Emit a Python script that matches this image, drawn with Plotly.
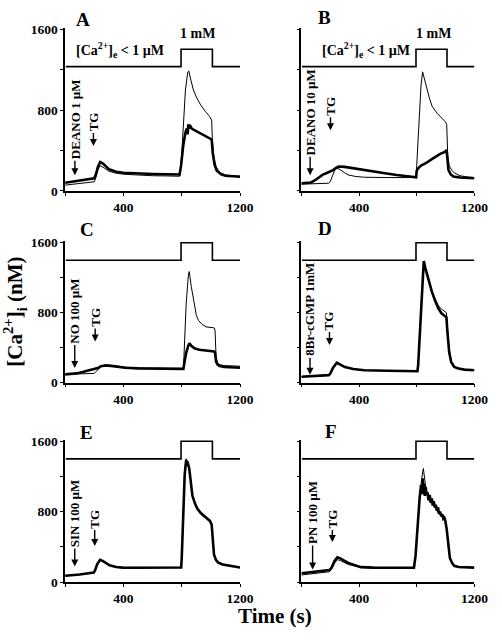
import plotly.graph_objects as go

# ---------------- data ----------------
panel_letters = ["A", "B", "C", "D", "E", "F"]
drug_labels = ["DEANO 1 µM", "DEANO 10 µM", "NO 100 µM", "8Br-cGMP 1mM", "SIN 100 µM", "PN 100 µM"]
drug_time = [67, 61, 66, 60, 66, 78]       # s, time of drug addition (arrow)
tg_time = [194, 202, 206, 195, 203, 215]   # s, time of thapsigargin (arrow)

x_tickvals = [400, 1200]
x_minor = [0, 800]
y_tickvals = [0, 800, 1600]
y_minor = [400, 1200]

# extracellular Ca2+ protocol (step)
step_t = [5, 795, 795, 1010, 1010, 1200]
step_AB = [1232, 1232, 1405, 1405, 1232, 1232]
step_CF = [1400, 1400, 1600, 1600, 1400, 1400]

# Panel A
A_ctrl_t = [0, 100, 200, 210, 225, 240, 260, 300, 350, 400, 500, 600, 700, 785, 795, 810, 825, 840, 848, 860, 880, 900, 930, 960, 990, 1005, 1010, 1020, 1035, 1060, 1100, 1150, 1200]
A_ctrl_v = [57, 70, 90, 130, 210, 250, 235, 195, 175, 165, 155, 150, 148, 145, 250, 650, 1000, 1170, 1190, 1110, 1000, 930, 850, 790, 740, 700, 500, 330, 240, 180, 158, 150, 145]
A_drug_t = [0, 100, 200, 210, 225, 240, 260, 300, 350, 400, 500, 600, 700, 785, 795, 810, 825, 835, 840, 845, 850, 860, 870, 890, 920, 950, 980, 1005, 1012, 1025, 1040, 1070, 1100, 1150, 1200]
A_drug_v = [80, 100, 125, 160, 240, 285, 270, 215, 190, 180, 172, 168, 165, 163, 250, 450, 580, 620, 560, 660, 620, 640, 615, 600, 575, 550, 530, 510, 380, 260, 200, 165, 150, 145, 140]

# Panel B
B_ctrl_t = [0, 100, 190, 200, 215, 230, 247, 270, 300, 325, 380, 437, 600, 796, 800, 815, 830, 841, 855, 874, 890, 908, 925, 942, 975, 998, 1008, 1015, 1025, 1045, 1065, 1100, 1150, 1200]
B_ctrl_v = [66, 70, 76, 90, 150, 200, 224, 210, 180, 158, 142, 135, 132, 132, 250, 700, 1050, 1180, 1100, 1000, 910, 835, 800, 769, 720, 686, 660, 350, 250, 200, 175, 150, 138, 132]
B_drug_t = [0, 40, 67, 100, 146, 180, 202, 220, 235, 258, 300, 370, 440, 504, 580, 661, 730, 796, 800, 810, 830, 863, 900, 930, 960, 998, 1007, 1013, 1020, 1035, 1054, 1100, 1150, 1200]
B_drug_v = [76, 78, 83, 110, 158, 180, 191, 205, 224, 241, 238, 224, 208, 191, 175, 158, 145, 135, 200, 224, 250, 274, 310, 340, 365, 389, 406, 320, 208, 165, 142, 133, 128, 125]

# Panel C
C_ctrl_t = [0, 100, 200, 215, 230, 244, 278, 330, 411, 500, 600, 700, 811, 815, 830, 845, 851, 865, 878, 890, 900, 915, 940, 967, 1000, 1022, 1028, 1035, 1045, 1060, 1090, 1150, 1200]
C_ctrl_v = [94, 98, 105, 130, 165, 187, 206, 195, 176, 168, 163, 160, 157, 300, 900, 1230, 1270, 1100, 956, 850, 769, 710, 665, 637, 630, 626, 600, 300, 230, 205, 195, 188, 187]
C_drug_t = [0, 50, 78, 120, 160, 200, 230, 244, 278, 330, 411, 500, 600, 700, 811, 818, 830, 844, 852, 865, 890, 920, 960, 1000, 1022, 1028, 1035, 1045, 1060, 1090, 1150, 1200]
C_drug_v = [94, 98, 105, 120, 135, 150, 170, 187, 195, 188, 170, 163, 160, 158, 157, 230, 340, 420, 450, 420, 390, 375, 365, 360, 356, 340, 240, 205, 190, 178, 172, 169]

# Panel D
D_ctrl_t = [0, 100, 190, 200, 220, 246, 270, 302, 360, 436, 600, 805, 810, 825, 840, 849, 860, 883, 905, 927, 950, 972, 990, 1006, 1012, 1025, 1039, 1060, 1090, 1130, 1200]
D_ctrl_v = [67, 75, 85, 100, 170, 227, 210, 178, 155, 141, 135, 130, 200, 700, 1200, 1370, 1300, 1170, 1030, 960, 880, 840, 820, 800, 650, 380, 250, 190, 165, 150, 141]
D_drug_t = [0, 100, 190, 200, 220, 246, 270, 302, 360, 436, 600, 805, 810, 825, 840, 849, 860, 883, 905, 927, 950, 972, 990, 1006, 1012, 1025, 1039, 1060, 1090, 1130, 1200]
D_drug_v = [67, 75, 85, 100, 170, 227, 210, 178, 155, 141, 135, 130, 200, 700, 1220, 1390, 1310, 1164, 1040, 940, 850, 792, 770, 747, 600, 350, 234, 180, 160, 148, 141]

# Panel E
E_ctrl_t = [0, 100, 196, 205, 220, 240, 260, 305, 350, 393, 500, 600, 700, 796, 800, 810, 820, 829, 840, 851, 862, 873, 890, 906, 930, 960, 980, 993, 1005, 1013, 1021, 1035, 1050, 1080, 1120, 1200]
E_ctrl_v = [70, 85, 107, 130, 200, 255, 240, 193, 175, 167, 165, 165, 166, 167, 300, 800, 1250, 1400, 1380, 1300, 1150, 989, 900, 841, 790, 748, 720, 700, 660, 500, 322, 260, 230, 205, 193, 167]
E_drug_t = [0, 100, 196, 205, 220, 240, 260, 305, 350, 393, 500, 600, 700, 796, 800, 810, 820, 829, 840, 851, 862, 873, 890, 906, 930, 960, 980, 993, 1005, 1013, 1021, 1035, 1050, 1080, 1120, 1200]
E_drug_v = [72, 86, 108, 132, 205, 252, 238, 190, 172, 165, 164, 164, 165, 166, 290, 780, 1220, 1370, 1360, 1290, 1140, 980, 895, 836, 785, 745, 716, 695, 650, 480, 310, 250, 222, 200, 190, 165]

# Panel F
F_ctrl_t = [0, 100, 195, 210, 230, 250, 270, 325, 412, 500, 600, 700, 781, 792, 805, 820, 835, 846, 857, 868, 890, 911, 930, 954, 975, 998, 1008, 1020, 1030, 1045, 1060, 1090, 1130, 1200]
F_ctrl_v = [81, 98, 118, 150, 215, 255, 245, 200, 168, 160, 157, 156, 155, 300, 650, 950, 1180, 1290, 1150, 1000, 930, 880, 830, 774, 735, 700, 600, 400, 274, 220, 190, 175, 168, 163]
F_drug_t = [0, 100, 195, 210, 230, 250, 270, 325, 412, 500, 600, 700, 781, 792, 805, 820, 830, 838, 842, 846, 850, 856, 862, 868, 875, 882, 890, 897, 905, 911, 918, 925, 932, 940, 948, 954, 962, 970, 978, 985, 992, 998, 1008, 1020, 1030, 1045, 1060, 1090, 1130, 1200]
F_drug_v = [100, 115, 137, 165, 240, 281, 270, 218, 170, 165, 163, 163, 163, 300, 650, 950, 1100, 1000, 1180, 1050, 1120, 980, 1080, 1000, 1020, 930, 990, 900, 950, 870, 920, 850, 880, 810, 850, 774, 800, 750, 770, 720, 730, 700, 600, 400, 274, 218, 185, 172, 168, 165]

ctrl_t = [A_ctrl_t, B_ctrl_t, C_ctrl_t, D_ctrl_t, E_ctrl_t, F_ctrl_t]
ctrl_v = [A_ctrl_v, B_ctrl_v, C_ctrl_v, D_ctrl_v, E_ctrl_v, F_ctrl_v]
drug_t = [A_drug_t, B_drug_t, C_drug_t, D_drug_t, E_drug_t, F_drug_t]
drug_v = [A_drug_v, B_drug_v, C_drug_v, D_drug_v, E_drug_v, F_drug_v]
steps = [step_AB, step_AB, step_CF, step_CF, step_CF, step_CF]

# ---------------- layout ----------------
W, H = 502, 640
FONT = "Liberation Serif, Times New Roman, serif"

col_px = [(67, 247), (310, 488)]
row_px = [(22.5, 189), (240.7, 385), (443.6, 589)]  # top, bottom in px

# arrow head level (nM) and offset (px) of label centre above the head
drug_arrow = [(155, 56), (155, 63), (168, 57), (90, 65), (178, 53), (144, 57)]
tg_arrow = [(446, 24), (601, 24), (470, 24), (430, 24), (411, 27), (455, 23)]
letter_px = [(85, 14), (334, 12), (89, 228), (334, 227), (89, 436), (340, 435)]
cae_label_t = [375, 445]
mm_label_t = [905, 917]

fig = go.Figure()
layout = dict(width=W, height=H, margin=dict(l=0, r=0, t=0, b=0), autosize=False,
              paper_bgcolor="white", plot_bgcolor="white", showlegend=False,
              font=dict(family=FONT, size=13, color="black"))
annotations = []
tickfont = dict(family=FONT, size=13.5, color="black", weight="bold")
lblfont = dict(family=FONT, size=13, color="black")
minor_style = dict(ticks="outside", ticklen=3, tickwidth=1.2, tickcolor="black", showgrid=False)

for i in range(6):
    r, c = divmod(i, 2)
    n = "" if i == 0 else str(i + 1)
    xa, ya = "x" + n, "y" + n
    x0, x1 = col_px[c]
    t0, b0 = row_px[r]
    layout["xaxis" + n] = dict(domain=[x0 / W, x1 / W], range=[0, 1200], anchor=ya,
                               showline=True, linecolor="black", linewidth=1.5,
                               showgrid=False, zeroline=False, ticks="outside", ticklen=3,
                               tickwidth=1.2, tickcolor="black",
                               tickmode="array", tickvals=x_tickvals, tickfont=tickfont,
                               minor=dict(tickmode="array", tickvals=x_minor, **minor_style))
    yax = dict(domain=[1 - b0 / H, 1 - t0 / H], range=[0, 1615], anchor=xa,
               showline=True, linecolor="black", linewidth=1.5,
               showgrid=False, zeroline=False, ticks="outside", ticklen=3,
               tickwidth=1.2, tickcolor="black", tickmode="array", tickfont=tickfont)
    if c == 0:
        yax.update(tickvals=y_tickvals,
                   minor=dict(tickmode="array", tickvals=y_minor, **minor_style))
    else:
        yax.update(tickvals=y_tickvals + y_minor, showticklabels=False)
    layout["yaxis" + n] = yax

    fig.add_trace(go.Scatter(x=step_t, y=steps[i], mode="lines", xaxis=xa, yaxis=ya,
                             line=dict(color="black", width=1.6)))
    fig.add_trace(go.Scatter(x=drug_t[i], y=drug_v[i], mode="lines", xaxis=xa, yaxis=ya,
                             line=dict(color="black", width=2.6)))
    fig.add_trace(go.Scatter(x=ctrl_t[i], y=ctrl_v[i], mode="lines", xaxis=xa, yaxis=ya,
                             line=dict(color="black", width=1.0)))

    dv, dpx = drug_arrow[i]
    annotations.append(dict(x=drug_time[i], y=dv, xref=xa, yref=ya,
                            text="<b>" + drug_labels[i] + "</b>", textangle=-90,
                            showarrow=True, ax=0, ay=-dpx, arrowhead=2, arrowsize=1,
                            arrowwidth=1.4, arrowcolor="black", standoff=0, font=lblfont))
    gv, gpx = tg_arrow[i]
    annotations.append(dict(x=tg_time[i], y=gv, xref=xa, yref=ya,
                            text="<b>TG</b>", textangle=-90,
                            showarrow=True, ax=0, ay=-gpx, arrowhead=2, arrowsize=1,
                            arrowwidth=1.4, arrowcolor="black", standoff=0, font=lblfont))

    lx, ly = letter_px[i]
    annotations.append(dict(x=lx / W, y=1 - ly / H, xref="paper", yref="paper",
                            text="<b>" + panel_letters[i] + "</b>", showarrow=False,
                            xanchor="center", yanchor="middle",
                            font=dict(family=FONT, size=19, color="black")))

    if r == 0:
        annotations.append(dict(x=cae_label_t[c], y=1400, xref=xa, yref=ya,
                                text="<b>[Ca<sup>2+</sup>]<sub>e</sub> &lt; 1 µM</b>",
                                showarrow=False, xanchor="center", yanchor="middle",
                                font=dict(family=FONT, size=14, color="black")))
        annotations.append(dict(x=mm_label_t[c], y=1560, xref=xa, yref=ya, text="<b>1 mM</b>",
                                showarrow=False, xanchor="center", yanchor="middle",
                                font=dict(family=FONT, size=14, color="black")))

annotations.append(dict(x=283 / W, y=1 - 624 / H, xref="paper", yref="paper",
                        text="<b>Time (s)</b>", showarrow=False, xanchor="center", yanchor="middle",
                        font=dict(family=FONT, size=21, color="black")))
annotations.append(dict(x=15 / W, y=1 - 313 / H, xref="paper", yref="paper",
                        text="<b>[Ca<sup>2+</sup>]<sub>i</sub> (nM)</b>", showarrow=False,
                        textangle=-90, xanchor="center", yanchor="middle",
                        font=dict(family=FONT, size=21, color="black")))

layout["annotations"] = annotations
fig.update_layout(**layout)
fig.write_html("out.html", config={"displayModeBar": False},
               post_script="document.body.style.margin='0';document.body.style.overflow='hidden';")
